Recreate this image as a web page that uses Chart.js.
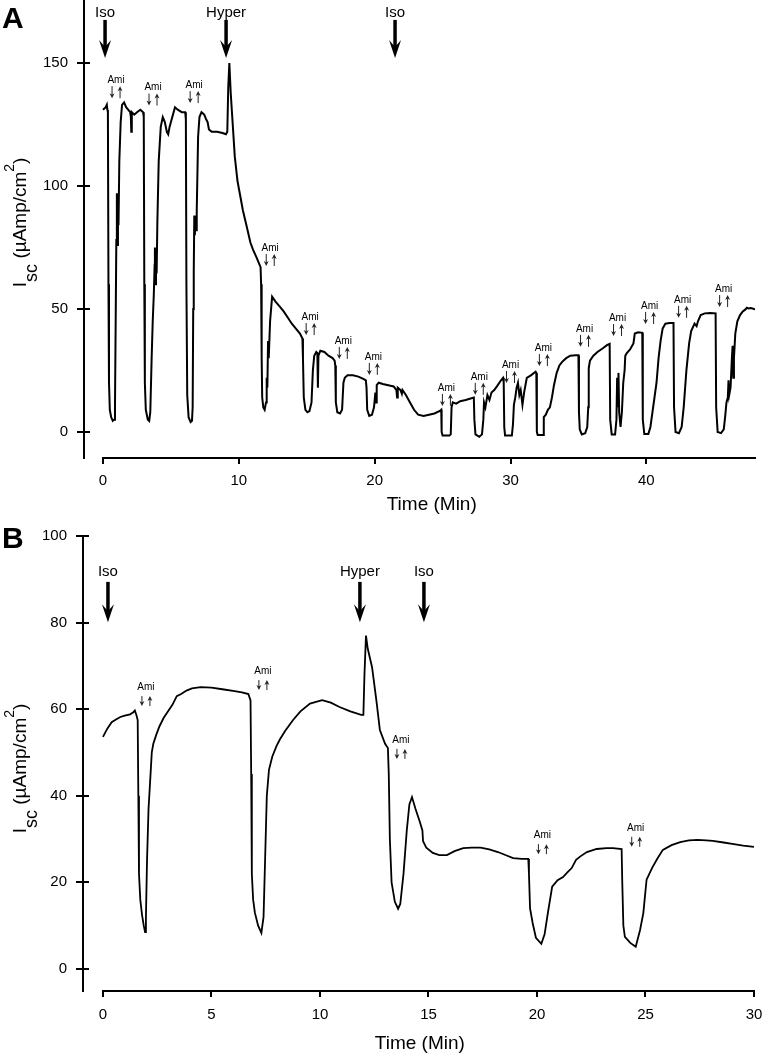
<!DOCTYPE html>
<html lang="en">
<head>
<meta charset="utf-8">
<script src="https://cdn.jsdelivr.net/npm/chart.js@4"></script>
<style>
    body { margin: 0; background: #fff; }
    canvas { position: absolute; left: 0; }
    #chartA { top: 0; }
    #chartB { top: 525px; }
</style>
</head>

<body>
    <canvas id="chartA" width="763" height="525"></canvas>
    <canvas id="chartB" width="763" height="531"></canvas>

    <script>
        // Panel A: short-circuit current trace (min, uAmp/cm2)
        const timeA = [
            0, 0.2, 0.28, 0.32, 0.36, 0.4, 0.44, 0.5, 0.6, 0.72,
            0.82, 0.88, 0.94, 0.98, 1.02, 1.06, 1.1, 1.14, 1.2, 1.3,
            1.4, 1.55, 1.7, 1.85, 2.0, 2.05, 2.08, 2.12, 2.3, 2.5,
            2.75, 2.95, 3.0, 3.04, 3.08, 3.15, 3.3, 3.4, 3.48, 3.58,
            3.66, 3.74, 3.8, 3.82, 3.86, 3.9, 3.95, 4.0, 4.1, 4.25,
            4.4, 4.55, 4.7, 4.8, 4.9, 5.0, 5.15, 5.3, 5.5, 5.8,
            6.05, 6.1, 6.14, 6.2, 6.3, 6.45, 6.55, 6.6, 6.64, 6.68,
            6.72, 6.76, 6.8, 6.86, 6.9, 7.0, 7.1, 7.25, 7.45, 7.6,
            7.7, 7.8, 8.0, 8.4, 8.8, 9.05, 9.15, 9.22, 9.3, 9.4,
            9.55, 9.7, 9.9, 10.1, 10.3, 10.6, 10.85, 11.05, 11.3, 11.6,
            11.64, 11.68, 11.72, 11.8, 11.9, 12.0, 12.05, 12.1, 12.15, 12.2,
            12.3, 12.45, 12.7, 13.0, 13.3, 13.6, 13.9, 14.2, 14.5, 14.68,
            14.72, 14.78, 14.9, 15.05, 15.2, 15.35, 15.45, 15.55, 15.7, 15.78,
            15.82, 15.86, 16.0, 16.3, 16.6, 16.9, 17.05, 17.1, 17.14, 17.25,
            17.45, 17.6, 17.7, 17.8, 18.0, 18.4, 18.8, 19.2, 19.35, 19.4,
            19.45, 19.6, 19.8, 19.95, 20.05, 20.1, 20.15, 20.3, 20.6, 21.0,
            21.4, 21.6, 21.65, 21.7, 21.9, 22.0, 22.05, 22.3, 22.6, 22.9,
            23.2, 23.6, 24.0, 24.4, 24.8, 24.9, 24.93, 25.0, 25.5, 25.6,
            25.66, 25.75, 26.0, 26.3, 26.7, 27.0, 27.3, 27.34, 27.42, 27.7,
            27.9, 28.0, 28.05, 28.15, 28.3, 28.45, 28.6, 28.8, 29.0, 29.3,
            29.45, 29.5, 29.54, 29.6, 30.1, 30.18, 30.25, 30.35, 30.45, 30.55,
            30.65, 30.75, 30.88, 31.0, 31.2, 31.5, 31.85, 31.9, 31.94, 32.0,
            32.4, 32.45, 32.6, 32.75, 32.9, 33.05, 33.2, 33.4, 33.6, 33.8,
            34.1, 34.4, 34.8, 35.0, 35.04, 35.1, 35.25, 35.5, 35.65, 35.72,
            35.76, 35.85, 36.1, 36.4, 36.8, 37.1, 37.3, 37.34, 37.45, 37.7,
            37.8, 37.85, 37.9, 37.95, 38.0, 38.1, 38.2, 38.3, 38.4, 38.45,
            38.55, 38.8, 39.05, 39.15, 39.4, 39.7, 39.74, 39.85, 40.15, 40.3,
            40.45, 40.6, 40.75, 40.9, 41.05, 41.2, 41.4, 41.7, 42.0, 42.04,
            42.15, 42.4, 42.6, 42.75, 42.95, 43.15, 43.3, 43.55, 43.7, 43.8,
            44.0, 44.3, 44.7, 45.1, 45.14, 45.25, 45.5, 45.7, 45.8, 45.9,
            46.0, 46.05, 46.1, 46.2, 46.3, 46.35, 46.4, 46.45, 46.55, 46.7,
            46.9, 47.1, 47.3, 47.4, 47.5, 47.7, 48.0
        ];
        const iscA = [
            131, 132, 133, 131, 130, 60, 20, 9, 6, 4.5,
            5, 10, 50, 78, 97, 76, 90, 84, 110, 126,
            133, 134, 132, 131, 130, 128, 122, 130, 129, 130,
            131, 130, 128, 60, 20, 9, 5, 4.5, 8, 30,
            45, 56, 68, 75, 60, 64, 65, 85, 110, 124,
            128, 126, 122, 121, 124, 126, 129, 132, 131, 130,
            130, 127, 60, 15, 6, 4, 4.5, 10, 50, 65,
            88, 80, 85, 82, 90, 120, 128, 130, 129, 127,
            126, 123, 122, 122, 121.5, 121, 122, 140, 150, 138,
            125, 112, 102, 96, 90, 83, 77, 74, 71, 67,
            60, 30, 14, 10, 9, 12, 22, 18, 37, 30,
            45, 55, 53, 51, 49, 46.5, 44, 42, 40, 38,
            30, 14, 9, 8, 8.5, 12, 25, 31, 32.5, 32,
            18, 31, 33, 32.5, 31, 30, 29, 27, 12, 8,
            7.5, 9, 20, 22, 23, 23, 22.5, 21.5, 21, 18,
            9, 6.5, 7, 10, 16, 12, 19, 20, 19.5, 19,
            18.5, 17, 14, 18, 17, 15.5, 17, 15, 12, 9,
            7, 6.5, 7, 7.5, 8.5, 9, 0, -1.5, -1.5, -1,
            10, 12, 11.5, 12.5, 13, 13.5, 14, 5, -1, -2,
            -1, 5, 12, 10, 15, 13, 16, 17, 18.5, 21,
            22, 20, 2, -1.5, -1.5, 3, 11, 14, 18, 20,
            15, 17, 11, 16, 22, 23, 24.5, 24, 0, -1.2,
            -1.2, 6, 7, 9, 10, 14, 19, 24, 27, 28.5,
            30, 31, 31.2, 31.2, 8, 1, -1, -0.5, 2, 10,
            26, 29, 31, 32.5, 34, 35.3, 35.8, 5, -1, -1,
            5, 22, 10, 24, 8, 2, 8, 20, 25, 31,
            32, 33.5, 36, 40, 40.5, 40.3, 5, -0.8, -0.8, 2,
            8, 14, 20, 30, 37, 42, 44, 44.3, 44.3, 10,
            0, -0.5, 2, 10, 25, 36, 41, 44, 43, 45,
            47.5, 48.2, 48.3, 48.2, 10, 0, -0.5, 1, 6, 12,
            14, 21, 15, 18, 30, 35, 22, 30, 40, 45,
            47.5, 49, 49.8, 50.5, 50.2, 50.4, 49.8
        ];
        const xTicksA = [0, 10, 20, 30, 40];
        const yTicksA = [0, 50, 100, 150];

        // Panel B trace
        const timeB = [
            0, 0.2, 0.4, 0.6, 0.8, 1.0, 1.25, 1.4, 1.47, 1.55,
            1.6, 1.63, 1.66, 1.72, 1.8, 1.88, 1.94, 1.98, 2.03, 2.1,
            2.17, 2.25, 2.32, 2.45, 2.6, 2.8, 3.0, 3.2, 3.4, 3.6,
            3.85, 4.1, 4.5, 5.0, 5.5, 6.0, 6.4, 6.7, 6.8, 6.83,
            6.86, 6.92, 7.0, 7.15, 7.3, 7.4, 7.47, 7.55, 7.65, 7.8,
            8.0, 8.15, 8.4, 8.76, 9.1, 9.54, 10.1, 10.5, 10.9, 11.4,
            11.9, 12.0, 12.05, 12.12, 12.2, 12.4, 12.6, 12.76, 13.0, 13.13,
            13.17, 13.22, 13.3, 13.45, 13.6, 13.7, 13.85, 14.0, 14.12, 14.24,
            14.4, 14.6, 14.72, 14.75, 14.9, 15.2, 15.5, 15.85, 16.2, 16.6,
            17.0, 17.4, 17.8, 18.2, 18.6, 18.9, 19.3, 19.6, 19.63, 19.68,
            19.8, 19.95, 20.2, 20.35, 20.5, 20.7, 20.95, 21.2, 21.4, 21.6,
            21.8, 22.0, 22.3, 22.75, 23.2, 23.5, 23.9, 23.93, 23.98, 24.05,
            24.3, 24.55, 24.75, 24.9, 25.05, 25.3, 25.55, 25.8, 26.2, 26.6,
            27.0, 27.4, 27.8, 28.1, 28.6, 29.0, 29.5, 30.0
        ];
        const iscB = [
            53.6, 55.5, 57, 57.6, 58.2, 58.5, 58.8, 59.3, 59.7, 58.5,
            57.5, 40, 22, 16, 12.5, 10, 8.5, 12, 25, 37,
            43, 50, 52, 54, 56, 58, 59.5, 61, 63, 63.5,
            64.3, 64.8, 65.1, 65, 64.6, 64.2, 63.9, 63.5, 62, 45,
            22, 16, 13, 10, 8.3, 12, 25, 40, 46, 49,
            51.5, 53, 55, 57.5, 59.5, 61.3, 62.1, 61.5, 60.5, 59.5,
            58.7, 58.7, 68, 77, 74, 69.7, 62, 55.2, 52, 51,
            45, 30, 20, 15.5, 13.9, 15, 22, 32, 38, 39.7,
            37, 34, 32, 29.5, 28, 26.8, 26.3, 26.3, 27.2, 27.9,
            28, 28, 27.6, 27, 26.2, 25.6, 25.4, 25.4, 22, 14,
            10.6, 7.2, 5.8, 8, 12.9, 19, 20.5, 21.2, 22.3, 23.3,
            25.2, 26, 27, 27.7, 27.9, 27.9, 27.7, 20, 10, 7.4,
            6, 5.1, 9, 12.9, 20.6, 23.3, 25.5, 27.5, 28.6, 29.3,
            29.7, 29.8, 29.7, 29.6, 29.2, 28.9, 28.5, 28.2
        ];
        const xTicksB = [0, 5, 10, 15, 20, 25, 30];
        const yTicksB = [0, 20, 40, 60, 80, 100];

        // drug additions: [label, time]
        const eventsA = [['Iso', 0.15], ['Hyper', 9.06], ['Iso', 21.5]];
        const eventsB = [['Iso', 0.23], ['Hyper', 11.84], ['Iso', 14.79]];
        // amiloride marks: [time, level of the label]
        const amiA = [
            [0.96, 143], [3.68, 140], [6.71, 141], [12.31, 74.8], [15.25, 46.7],
            [17.69, 37], [19.9, 30.5], [25.28, 17.9], [27.7, 22.4], [30.0, 27.2],
            [32.42, 34.1], [35.45, 41.9], [37.88, 46.3], [40.24, 51.2], [42.67, 53.7],
            [45.69, 58.1]
        ];
        const amiB = [[1.98, 65.1], [7.37, 68.8], [13.73, 52.9], [20.25, 30.9], [24.55, 32.6]];

        const FONT = '"Liberation Sans", Arial, sans-serif';

        function arrowHead(ctx, x, tip, dir, w, len, notch) {
            // dir = 1 points down, -1 points up
            ctx.beginPath();
            ctx.moveTo(x, tip);
            ctx.lineTo(x - w, tip - dir * len);
            ctx.lineTo(x, tip - dir * notch);
            ctx.lineTo(x + w, tip - dir * len);
            ctx.closePath();
            ctx.fill();
        }

        function yTitle(ctx, cx, cy) {
            const parts = [['I', 19, 0], ['sc', 18, 11], [' (\u00b5Amp/cm', 19, 0], ['2', 14, -12], [')', 19, 0]];
            ctx.save();
            ctx.translate(cx, cy);
            ctx.rotate(-Math.PI / 2);
            ctx.textAlign = 'left';
            ctx.textBaseline = 'alphabetic';
            let w = 0;
            parts.forEach(p => { ctx.font = p[1] + 'px ' + FONT; w += ctx.measureText(p[0]).width; });
            let xx = -w / 2;
            parts.forEach(p => {
                ctx.font = p[1] + 'px ' + FONT;
                ctx.fillText(p[0], xx, p[2]);
                xx += ctx.measureText(p[0]).width;
            });
            ctx.restore();
        }

        const decor = {
            id: 'decor',
            afterDraw(chart, args, o) {
                const { ctx, chartArea: area, scales: { x, y } } = chart;
                const px = t => x.getPixelForValue(t);
                const py = v => y.getPixelForValue(v);
                ctx.save();
                ctx.strokeStyle = '#000';
                ctx.fillStyle = '#000';

                // detached x axis line and inner half of y ticks
                ctx.lineWidth = 2;
                ctx.beginPath();
                ctx.moveTo(px(0) - 1, area.bottom);
                ctx.lineTo(px(o.xEnd) + 1, area.bottom);
                y.ticks.forEach(t => {
                    const yy = Math.round(py(t.value));
                    ctx.moveTo(area.left, yy);
                    ctx.lineTo(area.left + 6, yy);
                });
                ctx.stroke();

                ctx.font = 'bold 30px ' + FONT;
                ctx.textAlign = 'left';
                ctx.textBaseline = 'alphabetic';
                ctx.fillText(o.letter, 2, o.letterY);

                ctx.font = '19px ' + FONT;
                ctx.textAlign = 'center';
                ctx.textBaseline = 'middle';
                ctx.fillText('Time (Min)', px(o.titleT), area.bottom + o.titleDy);

                yTitle(ctx, o.yTitleX, py(o.yTitleV));

                // Iso / Hyper
                o.events.forEach(e => {
                    const ex = px(e[1]);
                    ctx.font = '15px ' + FONT;
                    ctx.textAlign = 'center';
                    ctx.textBaseline = 'middle';
                    ctx.fillText(e[0], ex, py(o.evLabel));
                    const tip = py(o.evTip);
                    ctx.lineWidth = 3.5;
                    ctx.beginPath();
                    ctx.moveTo(ex, py(o.evTop));
                    ctx.lineTo(ex, tip - 10);
                    ctx.stroke();
                    arrowHead(ctx, ex, tip, 1, 6, 18, 11);
                });

                // Ami with down/up arrows
                o.ami.forEach(m => {
                    const mx = px(m[0]), my = py(m[1]);
                    ctx.fillStyle = '#000';
                    ctx.font = '10px ' + FONT;
                    ctx.textAlign = 'center';
                    ctx.textBaseline = 'middle';
                    ctx.fillText('Ami', mx, my);
                    const top = my + o.amiGap, bot = top + o.amiLen;
                    ctx.strokeStyle = '#222';
                    ctx.fillStyle = '#222';
                    ctx.lineWidth = 1;
                    ctx.beginPath();
                    ctx.moveTo(mx - 4, top);
                    ctx.lineTo(mx - 4, bot - 2);
                    ctx.moveTo(mx + 4, bot);
                    ctx.lineTo(mx + 4, top + 2);
                    ctx.stroke();
                    arrowHead(ctx, mx - 4, bot, 1, 2.5, 5, 3.5);
                    arrowHead(ctx, mx + 4, top, -1, 2.5, 5, 3.5);
                });
                ctx.restore();
            }
        };

        function makeChart(id, cfg) {
            return new Chart(document.getElementById(id), {
                type: 'line',
                data: {
                    datasets: [{
                        data: cfg.time.map((t, i) => ({ x: t, y: cfg.isc[i] })),
                        borderColor: '#000',
                        borderWidth: cfg.lineWidth,
                        pointRadius: 0,
                        tension: 0,
                        fill: false
                    }]
                },
                options: {
                    responsive: false,
                    animation: false,
                    events: [],
                    layout: { padding: cfg.padding },
                    plugins: {
                        legend: { display: false },
                        tooltip: { enabled: false },
                        decor: cfg.decor
                    },
                    scales: {
                        x: {
                            type: 'linear',
                            min: cfg.xMin,
                            max: cfg.xMax,
                            afterBuildTicks: s => { s.ticks = cfg.xTicks.map(v => ({ value: v })); },
                            afterFit: s => { s.height = cfg.xHeight; s.paddingLeft = 0; s.paddingRight = 0; },
                            grid: { drawOnChartArea: false, tickLength: 6, color: '#000', lineWidth: 2 },
                            border: { display: false },
                            ticks: {
                                font: { family: FONT, size: 15 }, color: '#000', padding: cfg.xPad,
                                maxRotation: 0, autoSkip: false, callback: v => v
                            }
                        },
                        y: {
                            type: 'linear',
                            min: cfg.yMin,
                            max: cfg.yMax,
                            afterBuildTicks: s => { s.ticks = cfg.yTicks.map(v => ({ value: v })); },
                            afterFit: s => { s.width = cfg.yWidth; s.paddingTop = 0; s.paddingBottom = 0; },
                            grid: { drawOnChartArea: false, tickLength: 7, color: '#000', lineWidth: 2 },
                            border: { display: true, color: '#000', width: 2 },
                            ticks: {
                                font: { family: FONT, size: 15 }, color: '#000', padding: 9,
                                autoSkip: false, callback: v => v
                            }
                        }
                    }
                },
                plugins: [decor]
            });
        }

        makeChart('chartA', {
            time: timeA, isc: iscA, xTicks: xTicksA, yTicks: yTicksA,
            xMin: -1.4, xMax: 48, yMin: -10.6, yMax: 175.6,
            padding: { left: 0, top: 0, right: 8, bottom: 0 },
            yWidth: 84, xHeight: 67, xPad: 8, lineWidth: 2,
            decor: {
                xEnd: 48, letter: 'A', letterY: 28, titleT: 24.2, titleDy: 47,
                yTitleX: 26, yTitleV: 85.2,
                events: eventsA, evLabel: 170.5, evTop: 167.5, evTip: 152,
                ami: amiA, amiGap: 6, amiLen: 12
            }
        });

        makeChart('chartB', {
            time: timeB, isc: iscB, xTicks: xTicksB, yTicks: yTicksB,
            xMin: -0.92, xMax: 30, yMin: -5.1, yMax: 100,
            padding: { left: 0, top: 11, right: 9, bottom: 0 },
            yWidth: 83, xHeight: 65, xPad: 9, lineWidth: 1.8,
            decor: {
                xEnd: 30, letter: 'B', letterY: 23, titleT: 14.6, titleDy: 53,
                yTitleX: 26, yTitleV: 46.3,
                events: eventsB, evLabel: 91.7, evTop: 89.4, evTip: 80.1,
                ami: amiB, amiGap: 9, amiLen: 10
            }
        });
    </script>
</body>

</html>
